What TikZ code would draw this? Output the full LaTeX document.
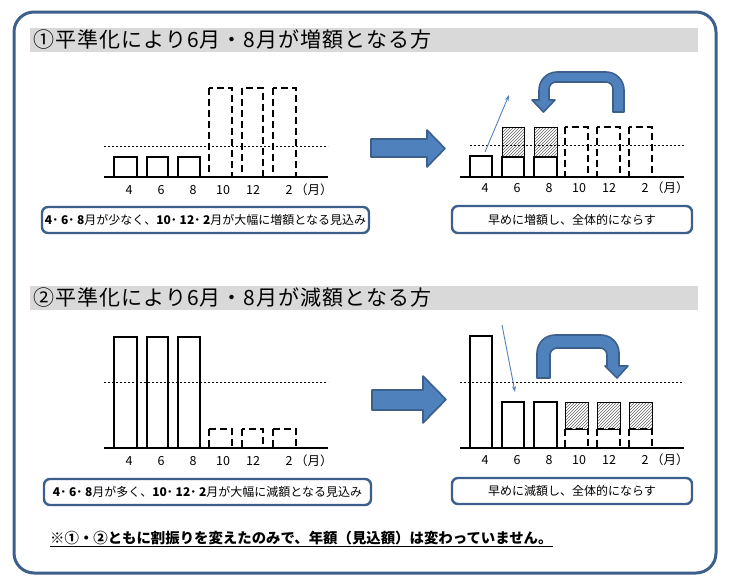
\documentclass[tikz,border=0pt]{standalone}
\usepackage{fontspec}
\setmainfont{Noto Sans CJK JP}
\newfontfamily\titlefont{Noto Sans CJK JP}[LetterSpace=5]
\usepackage{tikz}
\usetikzlibrary{arrows.meta,patterns}
\definecolor{fillblue}{HTML}{4F81BD}
\definecolor{edgeblue}{HTML}{3D5F8C}
\definecolor{titlegray}{HTML}{D9D9D9}
\tikzset{
	barline/.style={line width=1.1pt},
	dashbar/.style={line width=1.8pt, dash pattern=on 7pt off 4pt},
	hatchbar/.style={line width=0.9pt, pattern=north east lines, pattern color=black!60},
	avgline/.style={line width=0.8pt, dash pattern=on 2pt off 2pt},
	axisline/.style={line width=2.4pt},
	capbox/.style={draw=edgeblue, line width=2.4pt, rounded corners=6pt},
	blockarrow/.style={fill=fillblue, draw=edgeblue, line width=1.6pt, line join=round},
	thinarrow/.style={fillblue, line width=0.9pt, -{Stealth[length=6pt,width=4pt]}},
	monthlabel/.style={font=\fontsize{12.5}{13}\selectfont, inner sep=0pt},
	captext/.style={font=\fontsize{12}{13}\selectfont, inner sep=0pt},
	titletext/.style={font=\titlefont\fontsize{21}{22}\selectfont, inner sep=0pt, anchor=west}
}
\def\monthrow(#1,#2,#3){%
	\node[monthlabel] at (#1, #3) {4};
	\node[monthlabel] at (#1+32, #3) {6};
	\node[monthlabel] at (#1+64, #3) {8};
	\node[monthlabel] at (#1+94, #3) {10};
	\node[monthlabel] at (#1+124, #3) {12};
	\node[monthlabel] at (#1+160, #3) {2};
	\node[monthlabel, anchor=west] at (#1+166, #3) {（月）};}

\begin{document}
\begin{tikzpicture}[x=1pt, y=-1pt]
		%%%%% START %%%%%
		\useasboundingbox (0, 0) rectangle (729, 584);
		\draw[edgeblue, line width=3pt, rounded corners=20pt] (14, 12) rectangle (716, 573);
		
		% upper half
		\fill[titlegray] (30, 28) rectangle (698, 52);
		\node[titletext] (title1) at (33, 40) {①平準化により6月・8月が増額となる方};
		
		\draw[barline] (114, 157) rectangle (137, 177);
		\draw[barline] (147, 157) rectangle (168, 177);
		\draw[barline] (178, 157) rectangle (200, 177);
		\draw[dashbar] (209, 88) rectangle (232, 177);
		\draw[dashbar] (242, 88) rectangle (263, 177);
		\draw[dashbar] (273, 88) rectangle (296, 177);
		\draw[avgline] (104, 146) -- (328, 146);
		\draw[axisline] (104, 177) -- (328, 177);
		\monthrow(129,0,190)
		
		\draw[capbox] (42, 207) rectangle (369, 233);
		\node[captext] (cap1l) at (205.5, 220) {{\bfseries 4･ 6･ 8}月が少なく、{\bfseries 10･ 12･ 2}月が大幅に増額となる見込み};
		
		\draw[blockarrow] (371, 139) -- (427, 139) -- (427, 130) -- (445, 148.5) -- (427, 167) -- (427, 157) -- (371, 157) -- cycle;
		
		\draw[hatchbar] (502, 127) rectangle (524, 157);
		\draw[hatchbar] (534, 127) rectangle (557, 157);
		\draw[barline] (470, 156) rectangle (492, 177);
		\draw[barline] (502, 157) rectangle (524, 177);
		\draw[barline] (534, 157) rectangle (557, 177);
		\draw[dashbar] (565, 127) rectangle (588, 177);
		\draw[dashbar] (597, 127) rectangle (620, 177);
		\draw[dashbar] (629, 127) rectangle (652, 177);
		\draw[avgline] (470, 145) -- (684, 145);
		\draw[axisline] (460, 177) -- (684, 177);
		\monthrow(485,0,188)
		
		\coordinate (up1) at (485, 152);
		\coordinate (up2) at (509, 95);
		\draw[thinarrow] (up1) -- (up2);
		\draw[blockarrow] (613, 112) -- (624, 112) [rounded corners=18pt] -- (624, 72) -- (539, 72) [sharp corners] -- (539, 100) -- (532, 100) -- (543.5, 112) -- (555, 100) -- (549, 100) [rounded corners=7pt] -- (549, 82) -- (613, 82) [sharp corners] -- cycle;
		
		\draw[capbox] (452, 206) rectangle (692, 233);
		\node[captext] (cap1r) at (572, 219.5) {早めに増額し、全体的にならす};
		
		% lower half
		\fill[titlegray] (30, 286) rectangle (698, 310);
		\node[titletext] (title2) at (33, 298) {②平準化により6月・8月が減額となる方};
		
		\draw[barline] (114, 337) rectangle (137, 448);
		\draw[barline] (147, 337) rectangle (168, 448);
		\draw[barline] (178, 337) rectangle (200, 448);
		\draw[dashbar] (209, 429) rectangle (232, 448);
		\draw[dashbar] (242, 429) rectangle (263, 448);
		\draw[dashbar] (273, 429) rectangle (296, 448);
		\draw[avgline] (104, 382) -- (328, 382);
		\draw[axisline] (104, 448) -- (328, 448);
		\monthrow(129,0,461)
		
		\draw[capbox] (44, 479) rectangle (371, 505);
		\node[captext] (cap2l) at (207.5, 492) {{\bfseries 4･ 6･ 8}月が多く、{\bfseries 10･ 12･ 2}月が大幅に減額となる見込み};
		
		\draw[blockarrow] (372, 390) -- (423, 390) -- (423, 376) -- (446, 399.5) -- (423, 423) -- (423, 410) -- (372, 410) -- cycle;
		
		\draw[barline] (470, 336) rectangle (492, 448);
		\draw[barline] (502, 402) rectangle (524, 448);
		\draw[barline] (534, 402) rectangle (557, 448);
		\draw[hatchbar] (565, 402) rectangle (588, 429);
		\draw[hatchbar] (597, 402) rectangle (620, 429);
		\draw[hatchbar] (629, 402) rectangle (652, 429);
		\draw[dashbar] (565, 429) rectangle (588, 448);
		\draw[dashbar] (597, 429) rectangle (620, 448);
		\draw[dashbar] (629, 429) rectangle (652, 448);
		\draw[avgline] (460, 382) -- (684, 382);
		\draw[axisline] (460, 448) -- (684, 448);
		\monthrow(485,0,460)
		
		\coordinate (down1) at (502, 325);
		\coordinate (down2) at (515, 392);
		\draw[thinarrow] (down1) -- (down2);
		\draw[blockarrow] (537, 378) [rounded corners=18pt] -- (537, 335) -- (619, 335) [sharp corners] -- (619, 366) -- (628, 366) -- (617, 378) -- (605, 366) -- (607, 366) [rounded corners=7pt] -- (607, 348) -- (550, 348) [sharp corners] -- (550, 378) -- cycle;
		
		\draw[capbox] (452, 478) rectangle (692, 504);
		\node[captext] (cap2r) at (572, 491) {早めに減額し、全体的にならす};
		
		% note
		\node[font=\fontsize{14.4}{15}\selectfont\bfseries, inner sep=0pt, anchor=west] (note) at (50, 538) {※①・②ともに割振りを変えたのみで、年額（見込額）は変わっていません。};
		\draw[line width=1pt] ([yshift=-3pt]note.base west) -- ([yshift=-3pt]note.base east);
		%%%%% END %%%%%
	\end{tikzpicture}
\end{document}
